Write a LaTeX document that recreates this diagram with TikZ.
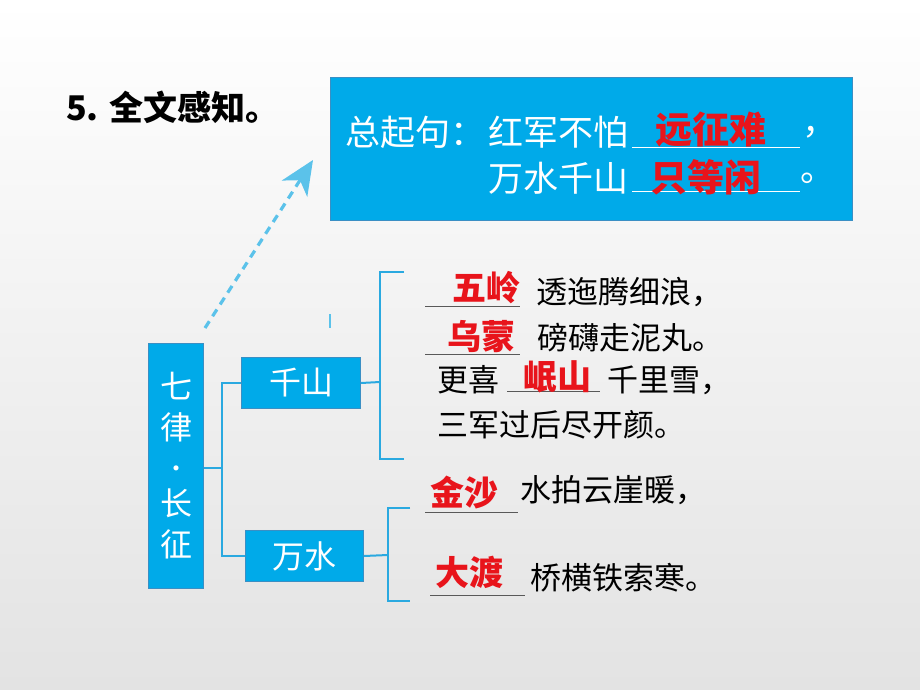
\documentclass[tikz,border=0pt]{standalone}
\usepackage{fontspec}
\newfontfamily\cjk{Noto Sans CJK SC}
\usetikzlibrary{arrows.meta}
\definecolor{boxblue}{HTML}{00AAE9}
\definecolor{boxedge}{HTML}{3A8FC4}
\definecolor{linkblue}{HTML}{2AA9E0}
\definecolor{arrowblue}{HTML}{5BC2EA}
\definecolor{ansred}{HTML}{E8141B}

\begin{document}
\begin{tikzpicture}[x=1pt,y=-1pt,
    bluebox/.style={draw=boxedge, line width=1pt, fill=boxblue},
    whitetext/.style={inner sep=0pt, anchor=west, text=white, font=\cjk\fontsize{35}{40}\selectfont},
    poem/.style={inner sep=0pt, anchor=west, text=black, font=\cjk\fontsize{31}{36}\selectfont},
    answer/.style={inner sep=0pt, anchor=west, text=ansred, font=\cjk\bfseries\fontsize{34}{38}\selectfont},
    blank/.style={draw=black!65, line width=0.9pt},
    link/.style={draw=linkblue, line width=2pt}]
    \useasboundingbox (0,0) rectangle (920,690);
    \shade[top color=white, bottom color=black!11] (0,0) rectangle (920,690);

    % title
    \node[inner sep=0pt, anchor=west, font=\cjk\bfseries\fontsize{34}{40}\selectfont] (title) at (66,107) {5. 全文感知。};

    % summary box
    \draw[bluebox] (330,78) rectangle (852,220);
    \node[whitetext] (zqj) at (345,132) {总起句：};
    \node[whitetext] (lineA) at (488,132) {红军不怕};
    \node[whitetext] (lineB) at (488,178) {万水千山};
    \draw[blank, draw=white] (632,147) -- (800,147);
    \draw[blank, draw=white] (632,191) -- (800,191);
    \node[answer, font=\cjk\bfseries\fontsize{37}{42}\selectfont] (ansA) at (655,130) {远征难};
    \node[answer, font=\cjk\bfseries\fontsize{37}{42}\selectfont] (ansB) at (650,177) {只等闲};
    \node[whitetext] (commaA) at (802,132) {，};
    \node[whitetext] (stopB) at (800,178) {。};

    % dashed arrow
    \coordinate (arrowfrom) at (205,328);
    \coordinate (arrowto) at (313,160);
    \draw[arrowblue, line width=3.2pt, dash pattern=on 8pt off 6pt,
          -{Stealth[length=34pt, width=30pt, inset=10pt]}] (arrowfrom) -- (arrowto);
    \draw[arrowblue, line width=2pt] (330,314) -- (330,328);

    % tree boxes
    \node[bluebox, minimum width=55pt, minimum height=245pt, inner sep=0pt, anchor=north west,
          text=white, font=\cjk\fontsize{32}{44}\selectfont, align=center] (poemtitle) at (148,343)
          {七\\[-3pt]律\\[-6pt]{\fontsize{24}{24}\selectfont·}\\[-6pt]长\\[-3pt]征};
    \node[bluebox, minimum width=119pt, minimum height=51pt, inner sep=0pt, anchor=north west,
          text=white, font=\cjk\fontsize{32}{38}\selectfont] (qianshan) at (241,357) {千山};
    \node[bluebox, minimum width=118pt, minimum height=51pt, inner sep=0pt, anchor=north west,
          text=white, font=\cjk\fontsize{32}{38}\selectfont] (wanshui) at (245,530) {万水};

    % connectors
    \coordinate (fork) at (222,468);
    \draw[link] (poemtitle.east |- fork) -- (fork);
    \draw[link] (qianshan.west) -| (fork) |- (wanshui.west);
    \coordinate (bracketA) at (380,382);
    \draw[link] (qianshan.east) -- (bracketA);
    \draw[link] (404,272) -- (380,272) -- (380,459) -- (404,459);
    \coordinate (bracketB) at (388,555);
    \draw[link] (wanshui.east) -- (bracketB);
    \draw[link] (410,508) -- (388,508) -- (388,601) -- (410,601);

    % poem lines
    \draw[blank] (425,306) -- (520,306);
    \node[answer] (wuling) at (452,288) {五岭};
    \node[poem] (lineone) at (536,292) {透迤腾细浪，};
    \draw[blank] (425,354) -- (520,354);
    \node[answer] (wumeng) at (447,337) {乌蒙};
    \node[poem] (linetwo) at (537,338) {磅礴走泥丸。};
    \node[poem] (gengxi) at (437,380) {更喜};
    \draw[blank] (507,391) -- (600,391);
    \node[answer] (minshan) at (523,377) {岷山};
    \node[poem] (linethree) at (607,380) {千里雪，};
    \node[poem] (linefour) at (437,425) {三军过后尽开颜。};
    \draw[blank] (425,512) -- (518,512);
    \node[answer] (jinsha) at (430,493) {金沙};
    \node[poem] (linefive) at (520,490) {水拍云崖暖，};
    \draw[blank] (430,595) -- (525,595);
    \node[answer] (dadu) at (435,572) {大渡};
    \node[poem] (linesix) at (530,578) {桥横铁索寒。};
\end{tikzpicture}
\end{document}
